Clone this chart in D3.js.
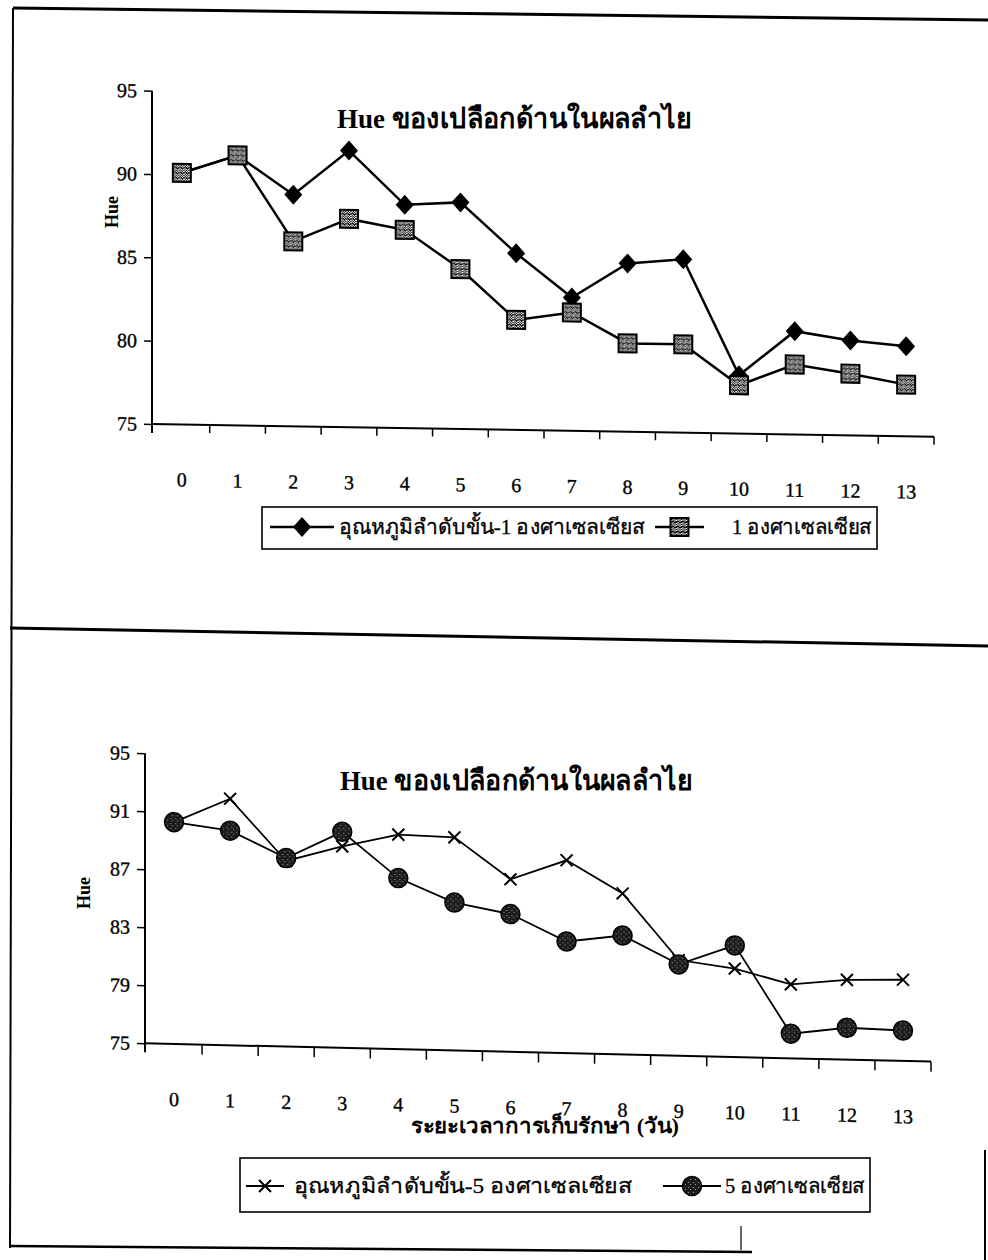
<!DOCTYPE html>
<html>
<head>
<meta charset="utf-8">
<script src="https://cdn.jsdelivr.net/npm/d3@7"></script>
<style>
  html, body { margin: 0; padding: 0; background: #fff; }
  svg { display: block; }
  text { font-family: "Liberation Serif", "Times New Roman", serif; fill: #000; }
</style>
</head>
<body>
<svg id="page" width="988" height="1260"></svg>
<script>
// Storage days (x categories)
const days = ["0","1","2","3","4","5","6","7","8","9","10","11","12","13"];

// Hue of inner peel, chart 1
const hueStepMinus1 = [90.1, 91.2, 88.9, 91.6, 88.4, 88.6, 85.6, 83.0, 85.1, 85.4, 78.5, 81.2, 80.7, 80.4];
const hueConst1     = [90.1, 91.2, 86.1, 87.5, 86.9, 84.6, 81.6, 82.1, 80.3, 80.3, 77.9, 79.2, 78.7, 78.1];

// Hue of inner peel, chart 2
const hueStepMinus5 = [90.3, 92.0, 87.8, 88.9, 89.8, 89.7, 86.9, 88.3, 86.1, 81.6, 81.1, 80.1, 80.5, 80.6];
const hueConst5     = [90.3, 89.8, 88.0, 89.9, 86.8, 85.2, 84.5, 82.7, 83.2, 81.3, 82.7, 76.7, 77.2, 77.1];

// Axis ticks
const yTicksTop    = [75, 80, 85, 90, 95];
const yTicksBottom = [75, 79, 83, 87, 91, 95];

// Texts
const chartTitle = "Hue ของเปลือกด้านในผลลำไย";
const yTitle = "Hue";
const xTitle = "ระยะเวลาการเก็บรักษา (วัน)";
const legendTop    = ["อุณหภูมิลำดับขั้น-1 องศาเซลเซียส", "1 องศาเซลเซียส"];
const legendBottom = ["อุณหภูมิลำดับขั้น-5 องศาเซลเซียส", "5 องศาเซลเซียส"];

const svg = d3.select("#page");
const defs = svg.append("defs");

// speckled fills for the square and circle markers
function speckle(id, bg, fg, dots, size) {
  const p = defs.append("pattern").attr("id", id)
    .attr("patternUnits", "userSpaceOnUse").attr("width", size).attr("height", size);
  p.append("rect").attr("width", size).attr("height", size).attr("fill", bg);
  dots.forEach(([dx, dy]) => p.append("rect").attr("x", dx).attr("y", dy)
    .attr("width", 1).attr("height", 1).attr("fill", fg));
}
speckle("sqFill", "#ffffff", "#000000",
  [[0,0],[1,0],[3,1],[2,2],[4,2],[0,3],[3,3],[1,4],[4,4],[2,0],[0,1],[4,0],[1,2],[2,4],[3,4]], 5);
speckle("ciFill", "#1c1c1c", "#9a9a9a", [[1,1],[3,3]], 5);

const markers = {
  diamond: g => g.append("path").attr("d", "M0,-10L9,0L0,10L-9,0Z").attr("fill", "#000"),
  square: g => g.append("rect").attr("x", -9).attr("y", -9).attr("width", 18).attr("height", 18)
      .attr("fill", "url(#sqFill)").attr("stroke", "#000").attr("stroke-width", 2),
  circle: g => g.append("circle").attr("r", 9.5)
      .attr("fill", "url(#ciFill)").attr("stroke", "#000").attr("stroke-width", 1.5),
  cross: g => g.append("path").attr("d", "M-6,-6L6,6M6,-6L-6,6")
      .attr("fill", "none").attr("stroke", "#000").attr("stroke-width", 2)
};

// page frame
const frame = svg.append("g").attr("stroke", "#000").attr("fill", "none");
frame.append("line").attr("x1", 13).attr("y1", 8).attr("x2", 988).attr("y2", 20).attr("stroke-width", 3);
frame.append("line").attr("x1", 13).attr("y1", 8).attr("x2", 10).attr("y2", 1248).attr("stroke-width", 2);
frame.append("line").attr("x1", 10).attr("y1", 628).attr("x2", 988).attr("y2", 646).attr("stroke-width", 3);
frame.append("line").attr("x1", 10).attr("y1", 1246).attr("x2", 752).attr("y2", 1252).attr("stroke-width", 2.5);
frame.append("line").attr("x1", 985).attr("y1", 1150).attr("x2", 985).attr("y2", 1260).attr("stroke-width", 2);
frame.append("line").attr("x1", 741).attr("y1", 1226).attr("x2", 741).attr("y2", 1250).attr("stroke-width", 1.2);

function fitText(sel, len) {
  return sel.attr("textLength", len).attr("lengthAdjust", "spacingAndGlyphs");
}

function drawChart(c) {
  const g = svg.append("g")
    .attr("transform", `matrix(1,${c.skew},0,1,0,${-c.skew * c.axisX})`);
  const x = d3.scaleBand().domain(days).range(c.xRange);
  const y = d3.scaleLinear().domain([75, 95]).range([c.yBottom, c.yTop]);
  const cx = i => x(days[i]) + x.bandwidth() / 2;

  // y axis
  const ya = g.append("g").attr("transform", `translate(${c.axisX},0)`)
    .call(d3.axisLeft(y).tickValues(c.yTicks).tickSize(8).tickPadding(7).tickSizeOuter(0));
  ya.select(".domain").remove();
  ya.selectAll(".tick line").attr("stroke", "#000").attr("stroke-width", 1.5);
  ya.selectAll(".tick text").attr("font-size", 20).attr("font-family", "Liberation Serif, serif")
    .attr("stroke", "#000").attr("stroke-width", 0.35);
  g.append("line").attr("x1", c.axisX).attr("x2", c.axisX)
    .attr("y1", y(95)).attr("y2", y(75) + 9).attr("stroke", "#000").attr("stroke-width", 2);

  // x axis
  const xa = g.append("g").attr("transform", `translate(0,${y(75)})`)
    .call(d3.axisBottom(x).tickSize(0).tickPadding(48).tickSizeOuter(0));
  xa.select(".domain").remove();
  xa.selectAll(".tick text").attr("font-size", 20).attr("font-family", "Liberation Serif, serif")
    .attr("stroke", "#000").attr("stroke-width", 0.35);
  g.append("line").attr("x1", c.axisX).attr("x2", x.range()[1])
    .attr("y1", y(75)).attr("y2", y(75)).attr("stroke", "#000").attr("stroke-width", 2);
  const edges = days.map(d => x(d)).concat([x.range()[1]]);
  g.append("g").selectAll("line").data(edges.slice(1)).join("line")
    .attr("x1", d => d).attr("x2", d => d)
    .attr("y1", y(75)).attr("y2", y(75) + c.xTickLen)
    .attr("stroke", "#000").attr("stroke-width", 1.5);

  // series
  c.series.forEach(s => {
    const line = d3.line().x((d, i) => cx(i)).y(d => y(d));
    g.append("path").datum(s.values).attr("d", line)
      .attr("fill", "none").attr("stroke", "#000").attr("stroke-width", c.lineWidth)
      .attr("stroke-linejoin", "miter");
    g.append("g").selectAll("g").data(s.values).join("g")
      .attr("transform", (d, i) => `translate(${cx(i)},${y(d)})`)
      .each(function () { markers[s.marker](d3.select(this)); });
  });

  // titles
  fitText(svg.append("text").attr("x", c.titleX).attr("y", c.titleY)
    .attr("text-anchor", "middle").attr("font-size", 28).attr("font-weight", "bold")
    .text(chartTitle), c.titleLen);
  svg.append("text").attr("transform", `translate(${c.yTitleX},${c.yTitleY}) rotate(-90)`)
    .attr("text-anchor", "middle").attr("font-size", 18).attr("font-weight", "bold")
    .text(yTitle);
  if (c.xTitle) {
    fitText(svg.append("text").attr("x", c.xTitle.x).attr("y", c.xTitle.y)
      .attr("text-anchor", "middle").attr("font-size", 21).attr("font-weight", "bold")
      .text(xTitle), c.xTitle.len);
  }

  // legend
  const L = c.legend;
  const lg = svg.append("g");
  lg.append("rect").attr("x", L.box[0]).attr("y", L.box[1])
    .attr("width", L.box[2] - L.box[0]).attr("height", L.box[3] - L.box[1])
    .attr("fill", "#fff").attr("stroke", "#000").attr("stroke-width", 1.6);
  L.items.forEach((it, k) => {
    const s = c.series[k];
    lg.append("line").attr("x1", it.line[0]).attr("x2", it.line[1])
      .attr("y1", L.cy).attr("y2", L.cy).attr("stroke", "#000").attr("stroke-width", c.lineWidth);
    const m = lg.append("g").attr("transform", `translate(${(it.line[0] + it.line[1]) / 2},${L.cy})`);
    markers[s.marker](m);
    fitText(lg.append("text").attr("x", it.textX).attr("y", L.cy + 7)
      .attr("font-size", 21).attr("stroke", "#000").attr("stroke-width", 0.3)
      .text(c.legendText[k]), it.textLen);
  });
}

drawChart({
  skew: 0.0163, axisX: 152, xRange: [154, 934], yTop: 90.7, yBottom: 424,
  yTicks: yTicksTop, xTickLen: 8, lineWidth: 2.5,
  titleX: 514, titleY: 128, titleLen: 354, yTitleX: 118, yTitleY: 212,
  series: [
    { values: hueStepMinus1, marker: "diamond" },
    { values: hueConst1, marker: "square" }
  ],
  legendText: legendTop,
  legend: {
    box: [262, 507, 877, 549], cy: 527,
    items: [ { line: [270, 334], textX: 339, textLen: 306 },
             { line: [655, 704], textX: 732, textLen: 140 } ]
  }
});

drawChart({
  skew: 0.0233, axisX: 145, xRange: [146, 931], yTop: 753.3, yBottom: 1043.3,
  yTicks: yTicksBottom, xTickLen: 10, lineWidth: 1.8,
  titleX: 516, titleY: 790, titleLen: 352, yTitleX: 90, yTitleY: 893,
  xTitle: { x: 545, y: 1133, len: 268 },
  series: [
    { values: hueStepMinus5, marker: "cross" },
    { values: hueConst5, marker: "circle" }
  ],
  legendText: legendBottom,
  legend: {
    box: [240, 1158, 870, 1212], cy: 1186,
    items: [ { line: [246, 284], textX: 294, textLen: 338 },
             { line: [663, 721], textX: 725, textLen: 140 } ]
  }
});
</script>
</body>
</html>
